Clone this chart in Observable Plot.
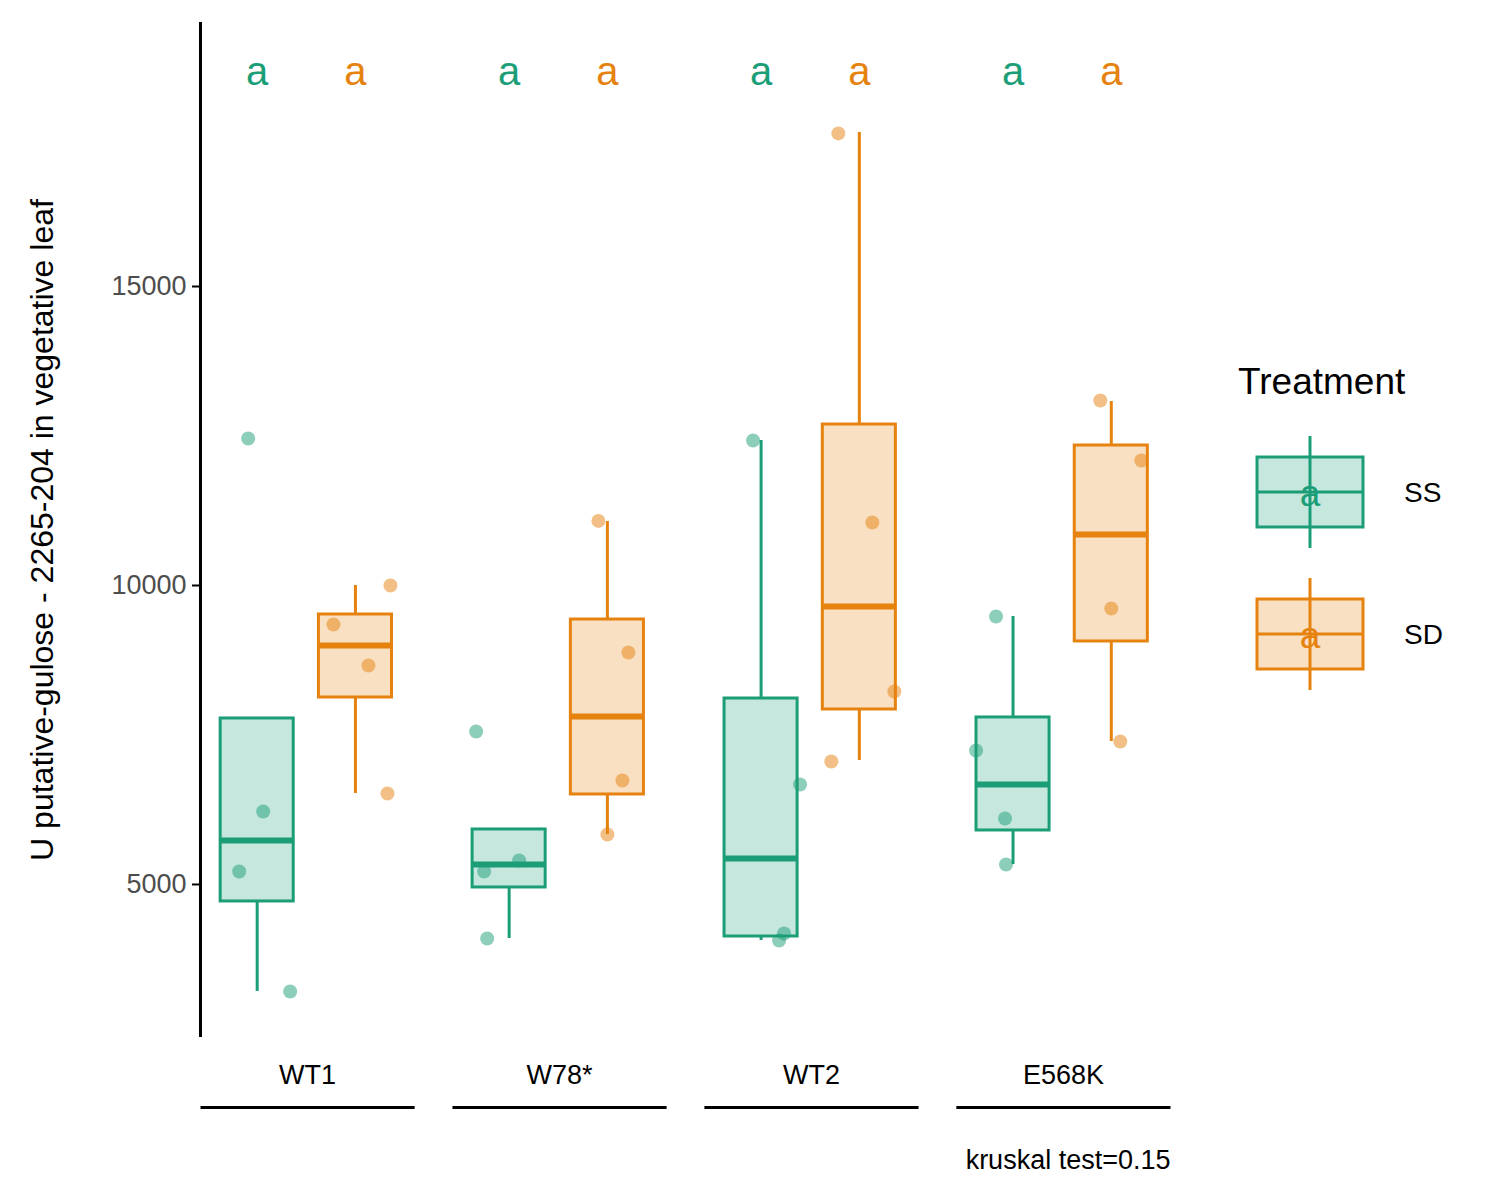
<!DOCTYPE html>
<html><head><meta charset="utf-8">
<script src="https://cdn.jsdelivr.net/npm/d3@7"></script>
<script src="https://cdn.jsdelivr.net/npm/@observablehq/plot@0.6"></script>
<style>body{margin:0;background:#fff;font-family:Arial,"Liberation Sans",sans-serif}#wrap{position:relative;width:1500px;height:1200px}#legend{position:absolute;left:1230px;top:350px}</style>
</head><body><div id="wrap"><div id="chart"></div><div id="legend"></div></div>
<script>
const groups = ["WT1","W78*","WT2","E568K"];
const treatments = ["SS","SD"];
const colors = ["#1b9e77","#e6820e"];
// box stats: [group, treatment, whiskerLo, q1, median, q3, whiskerHi]
const boxStats = [
  ["WT1","SS",3211,4716,5736,7776,7776],
  ["WT1","SD",6522,8127,8997,9515,10000],
  ["W78*","SS",4097,4950,5334,5920,5920],
  ["W78*","SD",5836,6505,7809,9431,11070],
  ["WT2","SS",4064,4130,5435,8110,12425],
  ["WT2","SD",7074,7926,9649,12692,17575],
  ["E568K","SS",5334,5903,6672,7793,9482],
  ["E568K","SD",7391,9064,10853,12341,13077]
];
// points: [group, treatment, value, jitter offset in px of the reference]
const points = [
  ["WT1","SS",12458,-9],["WT1","SS",6221,6],["WT1","SS",5217,-18],["WT1","SS",3211,33],
  ["WT1","SD",9348,-22],["WT1","SD",8662,13],["WT1","SD",10000,35],["WT1","SD",6522,32],
  ["W78*","SS",7559,-33],["W78*","SS",5217,-25],["W78*","SS",5401,10],["W78*","SS",4097,-22],
  ["W78*","SD",11080,-9],["W78*","SD",8880,21],["W78*","SD",6739,15],["W78*","SD",5836,0],
  ["WT2","SS",12425,-8],["WT2","SS",6672,39],["WT2","SS",4181,23],["WT2","SS",4064,18],
  ["WT2","SD",17560,-21],["WT2","SD",11054,13],["WT2","SD",8227,35],["WT2","SD",7057,-28],
  ["E568K","SS",9482,-17],["E568K","SS",7241,-37],["E568K","SS",6104,-8],["E568K","SS",5334,-7],
  ["E568K","SD",13094,-11],["E568K","SD",12090,30],["E568K","SD",9615,0],["E568K","SD",7391,9]
];
const letters = [["WT1","SS","a"],["WT1","SD","a"],["W78*","SS","a"],["W78*","SD","a"],["WT2","SS","a"],["WT2","SD","a"],["E568K","SS","a"],["E568K","SD","a"]];
const yTicks = [5000,10000,15000];
const kruskal = "kruskal test=0.15";

const off = {SS:-0.2, SD:0.19};
const hw = 0.145;
const pos = (g,t) => groups.indexOf(g) + off[t];
const col = t => colors[treatments.indexOf(t)];
const boxes = boxStats.map(([g,t,lo,q1,med,q3,hi]) => ({g,t,lo,q1,med,q3,hi,x:pos(g,t)}));
const pts = points.map(([g,t,v,j]) => ({g,t,v,x:pos(g,t)+j/252}));
const lets = letters.map(([g,t,s]) => ({t,s,x:pos(g,t)}));
const YMIN = 2441, YMAX = 19415, XMIN=-0.425, XMAX=3.425;
const grp = groups.map((g,i)=>({g,x:i}));

const plot = Plot.plot({
  width:1500, height:1200, marginLeft:200, marginRight:330, marginTop:22, marginBottom:163,
  x:{domain:[XMIN,XMAX], axis:null},
  y:{domain:[YMIN,YMAX], ticks:yTicks, tickFormat:d=>String(d), label:null},
  style:{fontFamily:"Arial, 'Liberation Sans', sans-serif", fontSize:"26px", color:"#4d4d4d"},
  marks:[
    Plot.axisY({ticks:yTicks, tickFormat:d=>String(d), tickSize:8, tickPadding:6, fontSize:27, fill:"#4d4d4d", stroke:"#000", strokeWidth:2, label:null}),
    Plot.ruleX([XMIN],{stroke:"#000",strokeWidth:3}),
    Plot.text(["U putative-gulose - 2265-204 in vegetative leaf"],{frameAnchor:"left",textAnchor:"middle",dx:-158,rotate:-90,fontSize:32,fill:"#000"}),
    Plot.ruleX(boxes,{x:"x",y1:"lo",y2:"q1",stroke:d=>col(d.t),strokeWidth:3}),
    Plot.ruleX(boxes,{x:"x",y1:"q3",y2:"hi",stroke:d=>col(d.t),strokeWidth:3}),
    Plot.rect(boxes,{x1:d=>d.x-hw,x2:d=>d.x+hw,y1:"q1",y2:"q3",fill:d=>col(d.t),fillOpacity:0.25,stroke:d=>col(d.t),strokeWidth:3}),
    Plot.link(boxes,{x1:d=>d.x-hw,x2:d=>d.x+hw,y1:"med",y2:"med",stroke:d=>col(d.t),strokeWidth:6}),
    Plot.dot(pts,{x:"x",y:"v",r:7,fill:d=>col(d.t),fillOpacity:0.5,stroke:"none"}),
    Plot.text(lets,{x:"x",y:18579,text:"s",fill:d=>col(d.t),fontSize:40}),
    Plot.text(grp,{x:"x",y:YMIN,text:"g",dy:38,fontSize:27,fill:"#000"}),
    Plot.link(grp,{x1:d=>d.x-0.425,x2:d=>d.x+0.425,y1:YMIN,y2:YMIN,dy:70,stroke:"#000",strokeWidth:3}),
    Plot.text([kruskal],{x:XMAX,y:YMIN,dy:123,textAnchor:"end",fontSize:27,fill:"#000"})
  ]
});
document.getElementById("chart").append(plot);

const ns="http://www.w3.org/2000/svg";
let s = `<svg xmlns="${ns}" width="260" height="360" font-family="Arial, 'Liberation Sans', sans-serif">`;
s += `<text x="8" y="44" font-size="37" fill="#000">Treatment</text>`;
treatments.forEach((t,i)=>{
  const cy = 142 + i*142, c = colors[i];
  s += `<line x1="80" x2="80" y1="${cy-56}" y2="${cy+56}" stroke="${c}" stroke-width="3"/>`;
  s += `<rect x="27" y="${cy-35}" width="106" height="70" fill="${c}" fill-opacity="0.25" stroke="${c}" stroke-width="3"/>`;
  s += `<line x1="27" x2="133" y1="${cy}" y2="${cy}" stroke="${c}" stroke-width="3"/>`;
  s += `<text x="80" y="${cy+14}" text-anchor="middle" font-size="37" fill="${c}">a</text>`;
  s += `<text x="174" y="${cy+10}" font-size="28" fill="#000">${t}</text>`;
});
s += `</svg>`;
document.getElementById("legend").innerHTML = s;
</script></body></html>
